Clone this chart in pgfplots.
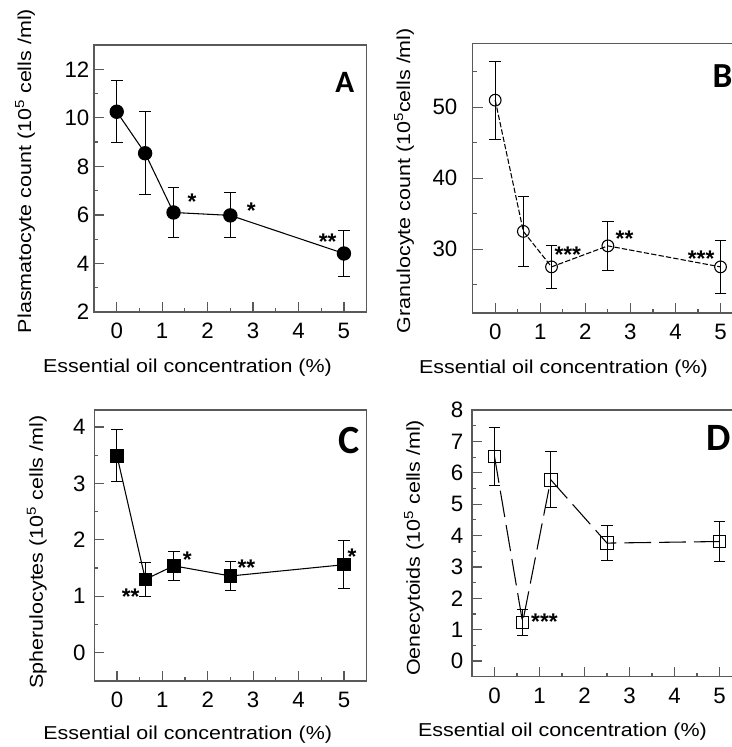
\documentclass[border=0pt]{standalone}
\usepackage{fontspec}
\setmainfont{Liberation Sans}
\newfontfamily\lblfont{Liberation Sans}[FakeStretch=1.15]
\newfontfamily\letterfont{Carlito}
\usepackage{pgfplots}
\pgfplotsset{compat=1.18}
\pgfplotsset{
  panel/.style={
    scale only axis,
    axis line style={draw=black!65, line width=1pt},
    every tick/.style={draw=black!65, line width=0.9pt},
    tick align=inside, xtick pos=bottom, ytick pos=left,
    major tick length=7.5pt, minor tick length=3pt,
    xmin=-0.5, xmax=5.5, xtick={0,...,5},
    minor xtick={0.5,1.5,2.5,3.5,4.5},
    tick label style={font=\fontsize{16.7}{18}\selectfont},
    xticklabel style={yshift=-5pt},
    label style={font=\lblfont\fontsize{14}{16}\selectfont},
    /pgf/number format/assume math mode=true,
    clip=false,
  },
  dat/.style={black, line width=0.8pt,
    error bars/y dir=both, error bars/y explicit,
    error bars/error bar style={line width=0.75pt, solid},
    error bars/error mark options={rotate=90, mark size=4.4pt, line width=0.75pt, solid}},
}
\tikzset{star/.style={font=\fontsize{17}{18}\selectfont\bfseries, anchor=center, yshift=-3.5pt, inner sep=0pt}}
\begin{document}
\begin{tikzpicture}
% ---------------- A ----------------
\begin{axis}[panel, at={(70.5pt,326.25pt)}, anchor=south west,
  width=204.5pt, height=200.25pt,
  ymin=2, ymax=13, ytick={2,4,...,12}, minor ytick={3,5,...,11},
  xlabel={Essential oil concentration (\%)},
  ylabel={Plasmatocyte count (10\textsuperscript{5} cells /ml)},
  xlabel style={at={(axis description cs:0.343,-0.210)}, anchor=center},
  ylabel style={at={(axis description cs:-0.253,0.528)}, anchor=center},
]
\addplot+[dat, mark=*, mark size=5pt, mark options={fill=black, solid}]
  table[x=x, y=y, y error=e] {
x y e
0 10.25 1.28
0.625 8.54 1.70
1.25 6.10 1.02
2.5 5.98 0.93
5 4.41 0.93
};
\node[star] at (axis cs:1.66,6.73) {*};
\node[star] at (axis cs:2.96,6.37) {*};
\node[star] at (axis cs:4.64,5.07) {**};
\node[font=\letterfont\bfseries\fontsize{23.3}{24}\selectfont] at (axis description cs:0.920,0.858) {A};
\end{axis}
% ---------------- B ----------------
\begin{axis}[panel, at={(354.5pt,325.5pt)}, anchor=south west,
  width=202.8pt, height=202.2pt,
  ymin=21, ymax=59, ytick={30,40,50}, minor ytick={25,35,45,55},
  yticklabel style={xshift=-8pt},
  xlabel={Essential oil concentration (\%)},
  ylabel={Granulocyte count (10\textsuperscript{5}cells /ml)},
  xlabel style={at={(axis description cs:0.336,-0.207)}, anchor=center},
  ylabel style={at={(axis description cs:-0.254,0.491)}, anchor=center},
]
\addplot+[dat, dash pattern=on 4pt off 1.6pt, mark=o, mark size=4.4pt, mark options={fill=white, solid}]
  table[x=x, y=y, y error=e] {
x y e
0 51.0 5.5
0.625 32.5 4.9
1.25 27.5 3.0
2.5 30.46 3.4
5 27.5 3.7
};
\node[star] at (axis cs:1.61,29.9) {***};
\node[star] at (axis cs:2.87,32.1) {**};
\node[star] at (axis cs:4.57,29.3) {***};
\node[font=\letterfont\bfseries\fontsize{26.4}{27}\selectfont] at (axis description cs:0.924,0.880) {B};
\end{axis}
% ---------------- C ----------------
\begin{axis}[panel, at={(70.7pt,49.5pt)}, anchor=south west,
  width=204.3pt, height=203.25pt,
  ymin=-0.5, ymax=4.3, ytick={0,...,4}, minor ytick={0.5,1.5,2.5,3.5},
  yticklabel style={xshift=-3pt},
  xlabel={Essential oil concentration (\%)},
  ylabel={Spherulocytes (10\textsuperscript{5} cells /ml)},
  xlabel style={at={(axis description cs:0.343,-0.199)}, anchor=center},
  ylabel style={at={(axis description cs:-0.211,0.476)}, anchor=center},
]
\addplot+[dat, mark=square*, mark size=4.7pt, mark options={fill=black, solid}]
  table[x=x, y=y, y error=e] {
x y e
0 3.49 0.46
0.625 1.30 0.30
1.25 1.54 0.26
2.5 1.36 0.25
5 1.56 0.42
};
\node[star] at (axis cs:0.30,1.08) {**};
\node[star] at (axis cs:1.55,1.73) {*};
\node[star] at (axis cs:2.85,1.59) {**};
\node[star] at (axis cs:5.18,1.79) {*};
\node[font=\letterfont\bfseries\fontsize{30}{31}\selectfont] at (axis description cs:0.935,0.886) {C};
\end{axis}
% ---------------- D ----------------
\begin{axis}[panel, at={(354pt,52.7pt)}, anchor=south west,
  width=202.5pt, height=200pt,
  ymin=-0.5, ymax=8, ytick={0,...,8}, minor ytick={0.5,1.5,...,7.5},
  yticklabel style={xshift=-3pt},
  xlabel={Essential oil concentration (\%)},
  ylabel={Oenecytoids (10\textsuperscript{5} cells /ml)},
  xlabel style={at={(axis description cs:0.335,-0.206)}, anchor=center},
  ylabel style={at={(axis description cs:-0.215,0.483)}, anchor=center},
]
\addplot+[dat, dash pattern=on 20pt off 6pt, mark=square, mark size=4.75pt, mark options={fill=white, solid}]
  table[x=x, y=y, y error=e] {
x y e
0 6.52 0.93
0.625 1.23 0.41
1.25 5.78 0.90
2.5 3.76 0.57
5 3.81 0.63
};
\node[star] at (axis cs:1.11,1.39) {***};
\node[font=\letterfont\bfseries\fontsize{29}{30}\selectfont] at (axis description cs:0.915,0.897) {D};
\end{axis}
\pgfresetboundingbox
\path (0pt,0pt) rectangle (549pt,560.25pt);
\end{tikzpicture}
\end{document}
